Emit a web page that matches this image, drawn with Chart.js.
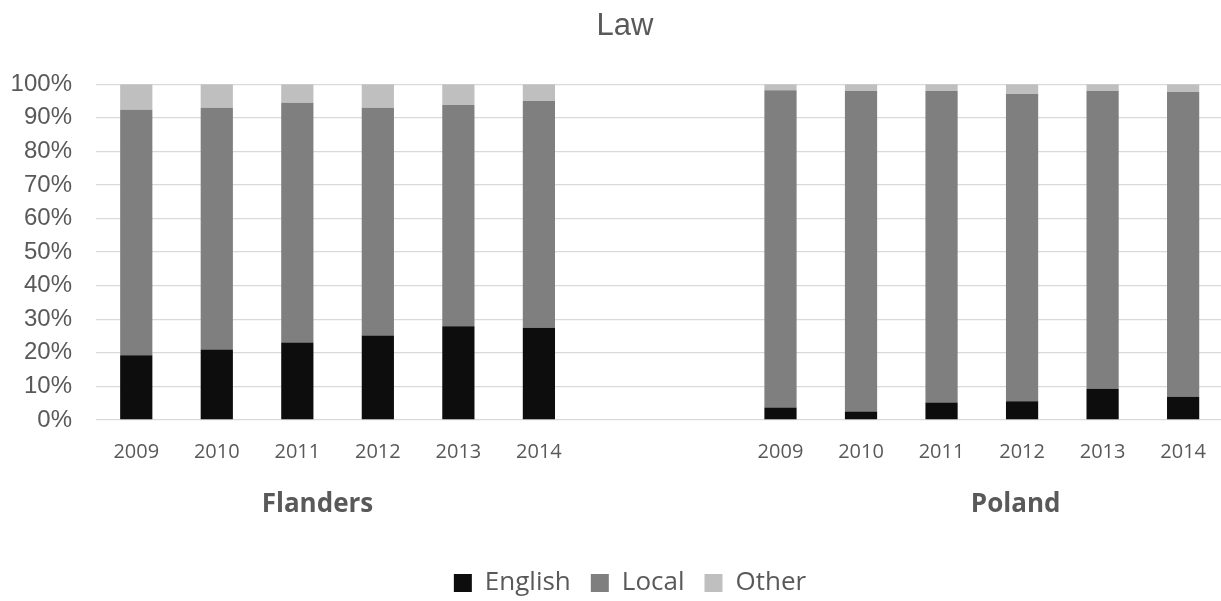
<!DOCTYPE html>
<html>
<head>
<meta charset="utf-8">
<title>Law</title>
<script src="https://cdn.jsdelivr.net/npm/chart.js@4.4.1/dist/chart.umd.min.js"></script>
<style>
  html, body { margin: 0; padding: 0; background: #ffffff; overflow: hidden; }
  /* plot runs a few pixels past the right edge of the window */
  #wrap { width: 1226px; height: 601px; }
</style>
</head>
<body>
<div id="wrap"><canvas id="LawChart"></canvas></div>
<script>
const ctx = document.getElementById('LawChart');

// shares in percent, one value per year
let years = ['2009', '2010', '2011', '2012', '2013', '2014'];
let regions = ['Flanders', 'Poland'];

let flandersEnglish = [19.3, 21.0, 23.1, 25.2, 27.9, 27.5];
let flandersLocal   = [73.1, 72.0, 71.4, 67.8, 65.9, 67.5];
let flandersOther   = [7.6, 7.0, 5.5, 7.0, 6.2, 5.0];

let polandEnglish = [3.7, 2.5, 5.2, 5.6, 9.3, 6.9];
let polandLocal   = [94.5, 95.5, 92.8, 91.5, 88.7, 90.8];
let polandOther   = [1.8, 2.0, 2.0, 2.9, 2.0, 2.3];

let yTicks = [0, 10, 20, 30, 40, 50, 60, 70, 80, 90, 100];

// two empty slots keep the regions apart
let gap = [null, null];
let labels = years.concat(['', ''], years);
let join = (a, b) => a.concat(gap, b);

// region names under the year labels (position in category units)
let regionAt = [2.25, 10.92];
const regionLabels = {
  id: 'regionLabels',
  afterLayout(chart) {
    // title and legend sit a little right of the canvas middle
    chart.titleBlock.left += 24;
    chart.legend.left += 34;
  },
  afterDraw(chart) {
    const x = chart.scales.x;
    const c = chart.ctx;
    c.save();
    c.font = 'bold 26px "Open Sans"';
    c.fillStyle = '#595959';
    c.textAlign = 'center';
    c.textBaseline = 'middle';
    regions.forEach((name, i) => {
      c.fillText(name, x.getPixelForValue(regionAt[i]), 505);
    });
    c.restore();
  }
};

new Chart(ctx, {
  type: 'bar',
  data: {
    labels: labels,
    datasets: [
      { label: 'English', data: join(flandersEnglish, polandEnglish), backgroundColor: '#0d0d0d' },
      { label: 'Local', data: join(flandersLocal, polandLocal), backgroundColor: '#7f7f7f' },
      { label: 'Other', data: join(flandersOther, polandOther), backgroundColor: '#bfbfbf' }
    ]
  },
  options: {
    responsive: true,
    maintainAspectRatio: false,
    animation: false,
    barPercentage: 0.4,
    categoryPercentage: 1.0,
    layout: { padding: { left: 0, right: 0, top: 0, bottom: -5 } },
    scales: {
      x: {
        stacked: true,
        grid: { display: false, drawTicks: false },
        border: { display: false },
        ticks: {
          color: '#595959',
          font: { family: '"Open Sans"', size: 20 },
          padding: 20,
          maxRotation: 0,
          autoSkip: false
        },
        afterFit(scale) { scale.height = 130; }
      },
      y: {
        stacked: true,
        min: 0,
        max: 100,
        afterBuildTicks(scale) { scale.ticks = yTicks.map(v => ({ value: v })); },
        grid: { color: '#d9d9d9', lineWidth: 1.3, drawTicks: false },
        border: { display: false },
        ticks: {
          color: '#595959',
          font: { family: '"Liberation Sans"', size: 24 },
          padding: 24,
          callback: v => v + '%'
        },
        afterFit(scale) { scale.width = 96; }
      }
    },
    plugins: {
      title: {
        display: true,
        text: 'Law',
        color: '#595959',
        font: { family: '"Liberation Sans"', size: 31, weight: 'normal' },
        padding: { top: 8, bottom: 39 }
      },
      legend: {
        position: 'bottom',
        labels: {
          color: '#595959',
          font: { family: '"Open Sans"', size: 26 },
          boxWidth: 18,
          boxHeight: 18,
          padding: 20
        }
      },
      tooltip: { enabled: false }
    }
  },
  plugins: [regionLabels]
});
</script>
</body>
</html>
